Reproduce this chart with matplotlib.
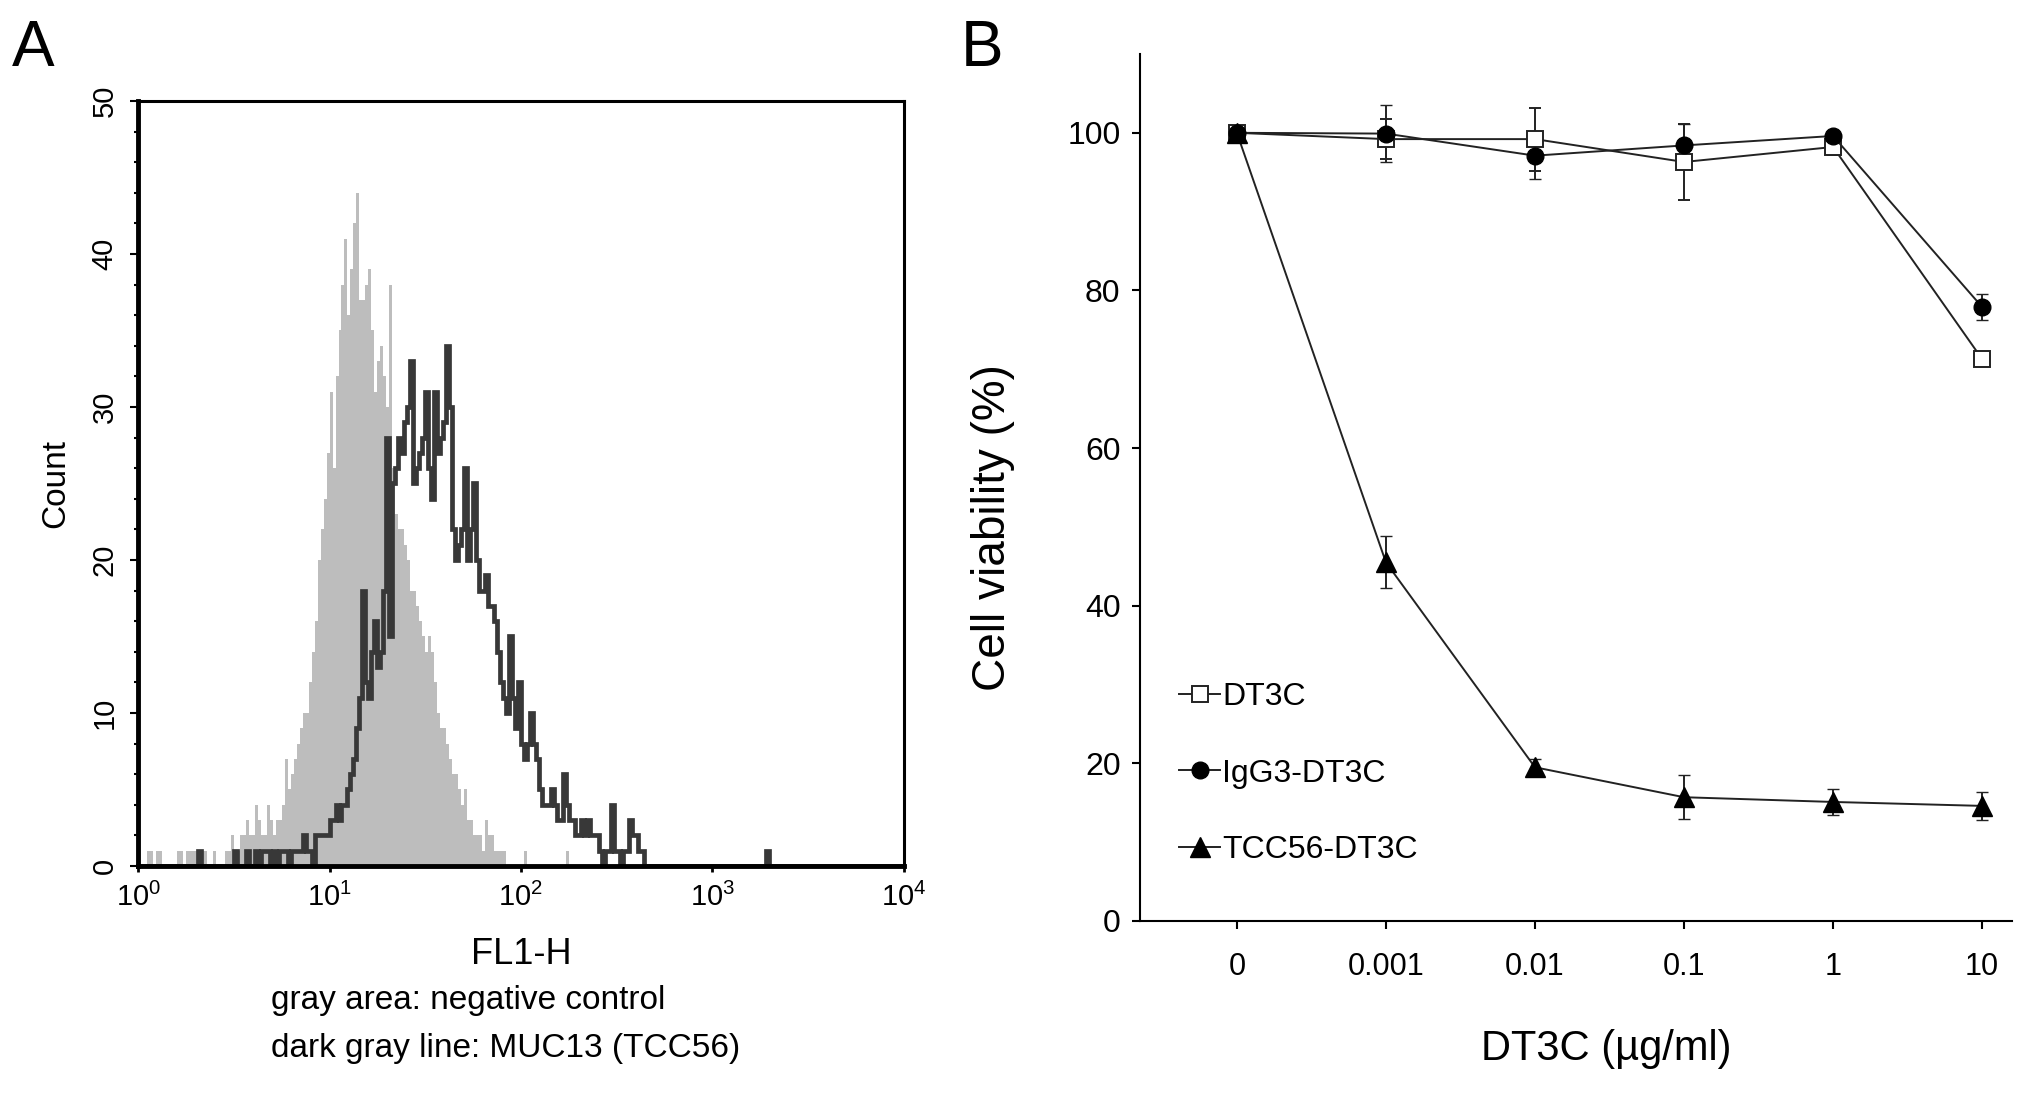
import numpy as np
import matplotlib.pyplot as plt
from matplotlib.lines import Line2D
from matplotlib.ticker import FixedLocator, MultipleLocator

plt.rcParams['font.family'] = ['Liberation Sans', 'DejaVu Sans']
plt.rcParams['mathtext.fontset'] = 'custom'
plt.rcParams['mathtext.rm'] = 'Liberation Sans'

# ---- panel A: flow cytometry histogram (64 channels per decade) ----
channels_per_decade = 64
neg_start = 0
neg_counts = [0, 0, 0, 1, 1, 0, 1, 1, 0, 0, 0, 0, 0, 1, 1, 0, 1, 1, 1, 1,
              0, 1, 1, 0, 0, 1, 0, 0, 0, 1, 1, 2, 1, 1, 2, 2, 3, 2, 2, 4,
              3, 2, 2, 4, 3, 2, 3, 3, 4, 7, 5, 6, 7, 8, 9, 10, 10, 12, 14, 16,
              20, 22, 24, 27, 31, 26, 32, 35, 38, 41, 36, 39, 42, 44, 37, 37, 38, 39, 35, 31,
              33, 34, 32, 30, 38, 26, 23, 22, 22, 21, 20, 18, 18, 17, 16, 15, 14, 15, 14, 12,
              10, 9, 9, 8, 7, 6, 6, 5, 4, 5, 3, 3, 2, 2, 2, 1, 3, 2, 2, 1,
              1, 1, 1, 0, 0, 0, 0, 0, 0, 1, 0, 0, 0, 0, 0, 0, 0, 0, 0, 0,
              0, 0, 0, 1]
muc_start = 20
muc_counts = [1, 0, 0, 0, 0, 0, 0, 0, 0, 0, 0, 0, 1, 0, 0, 0, 1, 0, 0, 1,
              0, 1, 1, 1, 0, 1, 0, 1, 1, 1, 0, 1, 1, 1, 1, 2, 1, 1, 0, 2,
              2, 2, 2, 2, 3, 3, 4, 3, 4, 4, 5, 6, 7, 9, 11, 18, 12, 11, 14, 16,
              13, 14, 18, 28, 15, 25, 26, 28, 27, 29, 30, 33, 25, 26, 27, 28, 31, 26, 24, 31,
              27, 28, 29, 34, 30, 22, 20, 21, 22, 26, 20, 22, 25, 20, 18, 18, 19, 17, 17, 16,
              14, 12, 11, 10, 15, 11, 9, 12, 8, 7, 8, 10, 8, 7, 5, 4, 4, 4, 5, 4,
              3, 3, 6, 4, 3, 3, 2, 2, 3, 2, 3, 2, 2, 2, 1, 0, 1, 1, 4, 1,
              1, 0, 1, 1, 3, 2, 2, 1, 1]
muc_extra_channel = 210
muc_extra_count = 1

# ---- panel B: cell viability ----
dose_labels = ['0', '0.001', '0.01', '0.1', '1', '10']
dt3c = [100, 99.2, 99.2, 96.3, 98.2, 71.3]
dt3c_err = [0.6, 2.5, 4.0, 4.8, 1.0, 0.6]
igg3 = [100, 99.9, 97.1, 98.4, 99.6, 77.9]
igg3_err = [0.5, 3.6, 3.0, 2.7, 0.5, 1.7]
tcc56 = [100, 45.5, 19.5, 15.7, 15.1, 14.6]
tcc56_err = [0.5, 3.3, 1.0, 2.8, 1.6, 1.8]

fig = plt.figure(figsize=(20.31, 10.93), dpi=100)

# panel A
axA = fig.add_axes([0.068, 0.2077, 0.377, 0.6999])
neg = np.zeros(256)
neg[neg_start:neg_start + len(neg_counts)] = neg_counts
muc = np.zeros(256)
muc[muc_start:muc_start + len(muc_counts)] = muc_counts
muc[muc_extra_channel] = muc_extra_count
edges = 10 ** (np.arange(257) / channels_per_decade)
axA.stairs(neg, edges, fill=True, color='#bdbdbd', lw=0)
axA.stairs(muc, edges, color='#383838', lw=3.4)
axA.set_xscale('log')
axA.set_xlim(1, 1e4)
axA.set_ylim(0, 50)
axA.xaxis.set_major_locator(FixedLocator([1, 10, 100, 1000, 10000]))
axA.xaxis.set_minor_locator(FixedLocator([]))
axA.set_xticklabels(['$10^0$', '$10^1$', '$10^2$', '$10^3$', '$10^4$'])
axA.yaxis.set_major_locator(MultipleLocator(10))
axA.yaxis.set_minor_locator(MultipleLocator(2))
for lab in axA.get_yticklabels():
    lab.set_rotation(90)
    lab.set_va('center')
axA.tick_params(axis='both', labelsize=21, direction='out')
axA.tick_params(axis='y', which='major', length=6, width=1.5, pad=8)
axA.tick_params(axis='y', which='minor', length=3, width=1.5)
axA.tick_params(axis='x', which='major', length=4, width=2, pad=8)
for side in ['left', 'bottom']:
    axA.spines[side].set_linewidth(3.5)
for side in ['top', 'right']:
    axA.spines[side].set_linewidth(2.2)
axA.set_ylabel('Count', fontsize=24, labelpad=14)
axA.set_xlabel('FL1-H', fontsize=26, labelpad=18)
fig.text(0.1335, 0.085, 'gray area: negative control', fontsize=24, ha='left', va='center')
fig.text(0.1335, 0.041, 'dark gray line: MUC13 (TCC56)', fontsize=24, ha='left', va='center')
fig.text(0.006, 0.955, 'A', fontsize=46, ha='left', va='center')

# panel B
axB = fig.add_axes([0.5613, 0.1574, 0.4293, 0.7932])
x = np.arange(len(dose_labels))
line_kw = dict(color='#222222', lw=1.4, capsize=4, elinewidth=1.4)
axB.errorbar(x, dt3c, yerr=dt3c_err, marker='s', ms=11, mfc='white', mec='#222222',
             mew=1.4, **line_kw)
axB.errorbar(x, igg3, yerr=igg3_err, marker='o', ms=12, mfc='black', mec='black', **line_kw)
axB.errorbar(x, tcc56, yerr=tcc56_err, marker='^', ms=14, mfc='black', mec='black', **line_kw)
axB.set_xlim(-0.65, 5.2)
axB.set_ylim(0, 110)
axB.set_xticks(x)
axB.set_xticklabels(dose_labels)
axB.set_yticks([0, 20, 40, 60, 80, 100])
axB.spines['top'].set_visible(False)
axB.spines['right'].set_visible(False)
axB.spines['left'].set_linewidth(1.5)
axB.spines['bottom'].set_linewidth(1.5)
axB.tick_params(axis='y', labelsize=23, length=6, width=1.5, pad=8)
axB.tick_params(axis='x', labelsize=22, length=6, width=1.5, pad=16)
axB.set_ylabel('Cell viability (%)', fontsize=33)
axB.yaxis.set_label_coords(-0.143, 0.454)
axB.set_xlabel('DT3C (µg/ml)', fontsize=30)
axB.xaxis.set_label_coords(0.535, -0.125)

handles = [
    Line2D([], [], color='#222222', lw=1.4, marker='s', ms=11, mfc='white', mec='#222222', mew=1.4),
    Line2D([], [], color='#222222', lw=1.4, marker='o', ms=12, mfc='black', mec='black'),
    Line2D([], [], color='#222222', lw=1.4, marker='^', ms=14, mfc='black', mec='black'),
]
axB.legend(handles, ['DT3C', 'IgG3-DT3C', 'TCC56-DT3C'], loc='upper left',
           bbox_to_anchor=(0.03, 0.29), frameon=False, fontsize=23,
           handlelength=1.3, handletextpad=0.05, labelspacing=1.45,
           borderaxespad=0, numpoints=1)
fig.text(0.473, 0.955, 'B', fontsize=46, ha='left', va='center')

fig.savefig('out.png', dpi=100)
